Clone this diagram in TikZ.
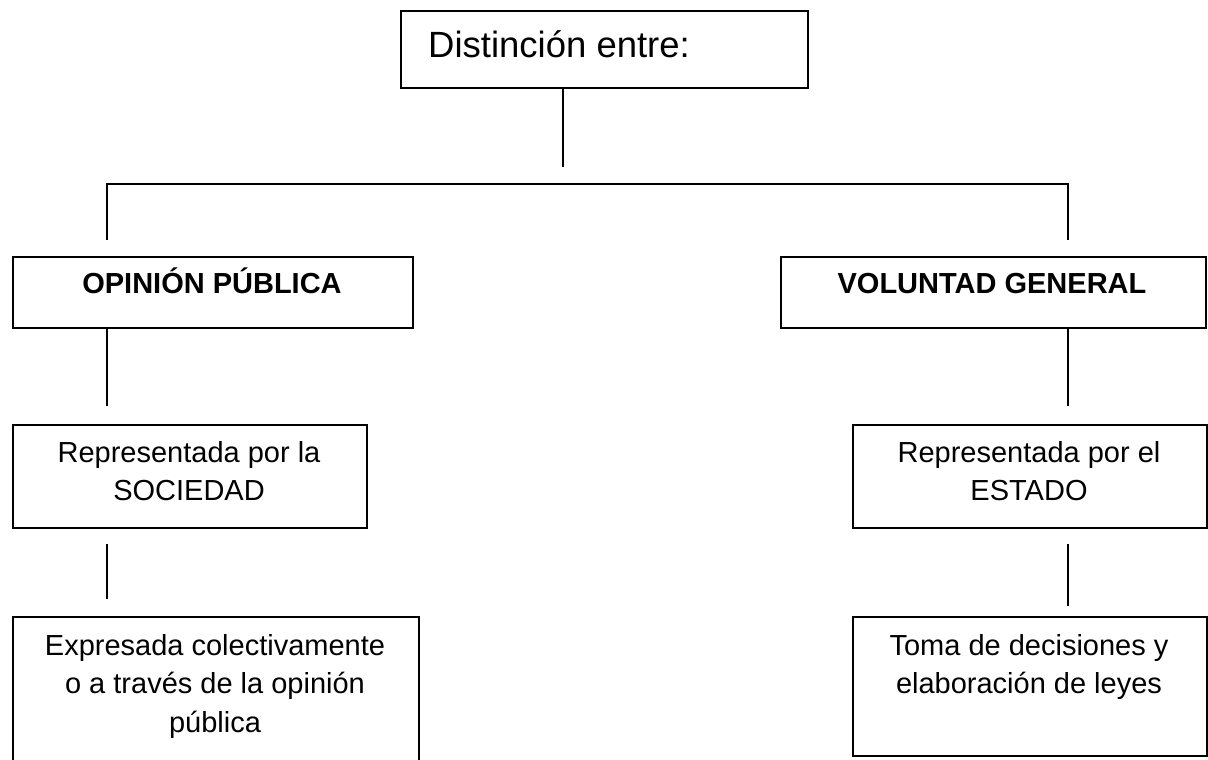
\documentclass[tikz,border=0pt]{standalone}
\usepackage{fontspec}
\setmainfont{Liberation Sans}
\begin{document}
\begin{tikzpicture}[x=1pt,y=-1pt,
  box/.style={draw=black,line width=1.8pt,rectangle,inner sep=0pt,anchor=north west},
  conn/.style={draw=black,line width=1.8pt},
  txt/.style={anchor=base,inner sep=0pt,font=\fontsize{29}{38}\selectfont},
  ttl/.style={anchor=base west,inner sep=0pt,font=\fontsize{36.5}{44}\selectfont}]
\useasboundingbox (0,0) rectangle (1208,760);
\clip (0,0) rectangle (1208,760);
% boxes
\node[box,minimum width=407pt,minimum height=77pt] (top) at (400,10) {};
\node[box,minimum width=400pt,minimum height=71pt] (op) at (12,256) {};
\node[box,minimum width=425pt,minimum height=71pt] (vg) at (780,256) {};
\node[box,minimum width=354pt,minimum height=103pt] (soc) at (12,424) {};
\node[box,minimum width=406pt,minimum height=170pt] (exp) at (12,616) {};
\node[box,minimum width=354pt,minimum height=103pt] (est) at (852,424) {};
\node[box,minimum width=354pt,minimum height=139pt] (toma) at (852,616) {};
% texts
\node[ttl] (ttop) at (428,58) {Distinción entre:};
\node[txt,font=\fontsize{29}{38}\selectfont\bfseries] (top-t) at (212,293) {OPINIÓN PÚBLICA};
\node[txt,font=\fontsize{29}{38}\selectfont\bfseries] (tvg) at (992,293) {VOLUNTAD GENERAL};
\node[txt] (tsoc1) at (189,462) {Representada por la};
\node[txt] (tsoc2) at (189,500) {SOCIEDAD};
\node[txt] (texp1) at (215,655) {Expresada colectivamente};
\node[txt] (texp2) at (215,693) {o a través de la opinión};
\node[txt] (texp3) at (215,732) {pública};
\node[txt] (test1) at (1029,462) {Representada por el};
\node[txt] (test2) at (1029,500) {ESTADO};
\node[txt] (ttoma1) at (1029,655) {Toma de decisiones y};
\node[txt] (ttoma2) at (1029,693) {elaboración de leyes};
% connector points
\coordinate (c0) at (563,167);
\coordinate (cl) at (107,184);
\coordinate (cr) at (1068,184);
\coordinate (opt) at (107,240);
\coordinate (vgt) at (1068,240);
\coordinate (opb) at (107,406);
\coordinate (vgb) at (1068,406);
\coordinate (s1) at (107,544);
\coordinate (s2) at (107,599);
\coordinate (e1) at (1068,544);
\coordinate (e2) at (1068,606);
\draw[conn] (top.south -| c0) -- (c0);
\draw[conn] (opt) -- (cl) -- (cr) -- (vgt);
\draw[conn] (op.south -| opb) -- (opb);
\draw[conn] (vg.south -| vgb) -- (vgb);
\draw[conn] (s1) -- (s2);
\draw[conn] (e1) -- (e2);
\end{tikzpicture}
\end{document}
